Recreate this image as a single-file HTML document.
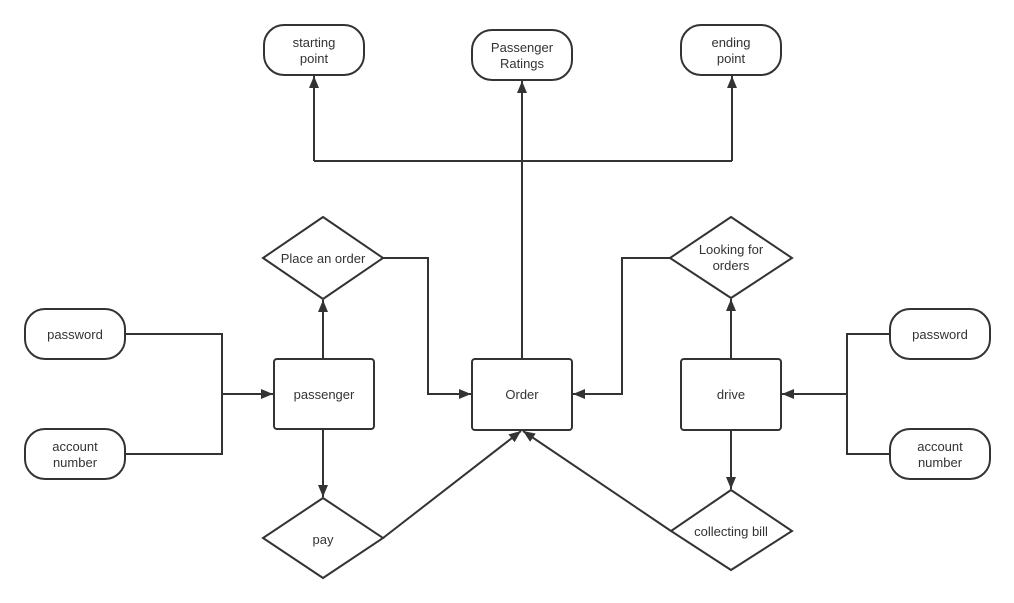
<!DOCTYPE html>
<html><head><meta charset="utf-8"><style>
html,body{margin:0;padding:0;background:#fff;}
svg{display:block;}
text{font-family:"Liberation Sans",sans-serif;font-size:13px;fill:#333;text-anchor:middle;}
</style></head><body>
<svg width="1014" height="603" viewBox="0 0 1014 603" xmlns="http://www.w3.org/2000/svg">
<defs>
<marker id="a" viewBox="0 0 12 10" refX="12" refY="5" markerWidth="6" markerHeight="5" orient="auto" markerUnits="strokeWidth">
<path d="M0,0 L12,5 L0,10 z" fill="#333"/></marker>
</defs>
<g fill="none" stroke="#333" stroke-width="2">
<rect x="264" y="25" width="100" height="50" rx="20"/>
<rect x="472" y="30" width="100" height="50" rx="20"/>
<rect x="681" y="25" width="100" height="50" rx="20"/>
<rect x="25" y="309" width="100" height="50" rx="20"/>
<rect x="25" y="429" width="100" height="50" rx="20"/>
<rect x="890" y="309" width="100" height="50" rx="20"/>
<rect x="890" y="429" width="100" height="50" rx="20"/>
<rect x="274" y="359" width="100" height="70" rx="3"/>
<rect x="472" y="359" width="100" height="71" rx="3"/>
<rect x="681" y="359" width="100" height="71" rx="3"/>
<path d="M323,217 L383,258 L323,299 L263,258 Z"/>
<path d="M731,217 L792,258 L731,298 L670,258 Z"/>
<path d="M323,498 L383,538 L323,578 L263,538 Z"/>
<path d="M731,490 L792,531 L731,570 L671,531 Z"/>
<path d="M314,161 L732,161"/>
<path d="M314,161 L314,76" marker-end="url(#a)"/>
<path d="M732,161 L732,76" marker-end="url(#a)"/>
<path d="M522,359 L522,81" marker-end="url(#a)"/>
<path d="M125,334 L222,334 L222,454 L125,454"/>
<path d="M222,394 L273,394" marker-end="url(#a)"/>
<path d="M323,359 L323,300" marker-end="url(#a)"/>
<path d="M383,258 L428,258 L428,394 L471,394" marker-end="url(#a)"/>
<path d="M323,429 L323,497" marker-end="url(#a)"/>
<path d="M383,538 L521,431" marker-end="url(#a)"/>
<path d="M890,334 L847,334 L847,454 L890,454"/>
<path d="M847,394 L782,394" marker-end="url(#a)"/>
<path d="M731,359 L731,299" marker-end="url(#a)"/>
<path d="M670,258 L622,258 L622,394 L573,394" marker-end="url(#a)"/>
<path d="M731,430 L731,489" marker-end="url(#a)"/>
<path d="M671,531 L523,431" marker-end="url(#a)"/>
</g>
<text x="314" y="47">starting</text><text x="314" y="63">point</text>
<text x="522" y="52">Passenger</text><text x="522" y="68">Ratings</text>
<text x="731" y="47">ending</text><text x="731" y="63">point</text>
<text x="75" y="339">password</text>
<text x="75" y="451">account</text><text x="75" y="467">number</text>
<text x="940" y="339">password</text>
<text x="940" y="451">account</text><text x="940" y="467">number</text>
<text x="324" y="399">passenger</text>
<text x="522" y="399">Order</text>
<text x="731" y="399">drive</text>
<text x="323" y="263">Place an order</text>
<text x="731" y="254">Looking for</text><text x="731" y="270">orders</text>
<text x="323" y="544">pay</text>
<text x="731" y="536">collecting bill</text>
</svg>
</body></html>
